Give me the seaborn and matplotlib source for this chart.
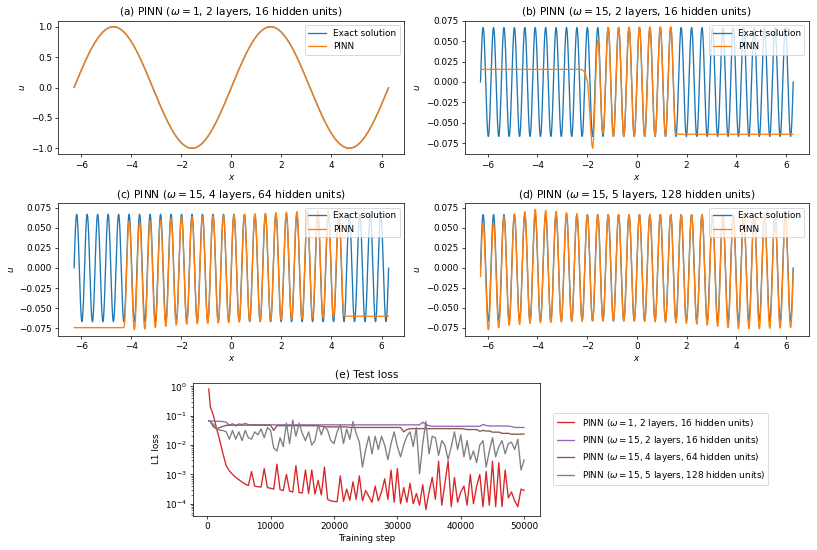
import numpy as np
import pandas as pd
import seaborn as sns
import matplotlib.pyplot as plt

# ---------------- dados dos quatro paineis de u(x) ----------------
omegas = [1, 15, 15, 15]
layers = [2, 2, 4, 5]
units = [16, 16, 64, 128]
tags = ['(a)', '(b)', '(c)', '(d)']
x_min, x_max = -2 * np.pi, 2 * np.pi

# (b) PINN: patamar a esquerda, segue a solucao no meio, patamar a direita
b_left_x = [-6.283, -2.25, -2.2, -2.12, -2.05, -1.98, -1.92, -1.86, -1.81]
b_left_u = [0.0155, 0.0155, 0.0150, 0.0130, 0.0080, 0.0, -0.022, -0.055, -0.076]
b_mid_x = [-1.78, 1.571]
b_off_x = [-1.78, -1.57, -1.36, -1.15, 1.36, 1.571]
b_off_u = [-0.0145, -0.0160, 0.004, 0.0, 0.001, 0.002]
b_right_u = -0.064

# (c) PINN: patamares nos extremos, deslocamento vertical no meio
c_mid_x = [-4.293, 4.503]
c_off_x = [-4.293, -3.8, -2.0, 0.0, 2.0, 3.8, 4.503]
c_off_u = [-0.0075, -0.0105, -0.0035, -0.001, 0.0025, 0.005, 0.0067]

# (d) PINN: quase igual a solucao, com pequenos desvios
d_off_x = [-6.283, -5.8, -5.3, -4.1, -2.0, 0.0, 2.5, 4.0, 5.0, 6.283]
d_off_u = [-0.011, -0.011, -0.004, 0.002, 0.0, 0.0, -0.002, -0.005, -0.005, -0.005]
d_gain = [1.0, 1.0, 1.03, 1.07, 1.0, 1.0, 1.03, 1.07, 1.07, 1.05]

# ---------------- dados da perda de teste (log10 do L1) ----------------
steps = [250] + list(range(500, 50001, 500))

red_log10 = [-0.08, -0.70, -1.00, -1.45, -1.85, -2.30, -2.70, -2.88, -3.00, -3.10,
             -3.18, -3.26, -3.33, -3.38, -2.90, -3.40, -3.42, -3.43, -2.80, -3.45,
             -3.47, -3.50, -2.65, -3.52, -3.55, -3.00, -3.57, -3.60, -2.70, -3.62,
             -3.63, -2.85, -3.65, -2.85, -3.67, -3.20, -3.70, -2.75, -3.85, -3.90,
             -3.92, -3.93, -3.05, -3.92, -3.50, -3.88, -3.25, -3.85, -3.05, -3.90,
             -3.55, -3.75, -3.95, -3.40, -3.90, -3.60, -3.15, -3.85, -2.85, -3.95,
             -2.80, -4.00, -3.45, -3.95, -3.30, -4.00, -3.65, -4.05, -3.35, -4.20,
             -3.60, -3.10, -3.85, -2.55, -4.05, -3.30, -2.55, -4.10, -3.10, -3.95,
             -3.60, -3.40, -4.05, -3.00, -4.00, -3.40, -3.00, -4.10, -2.90, -4.05,
             -2.55, -4.10, -2.60, -4.10, -2.85, -3.80, -3.60, -3.90, -4.10, -3.50,
             -3.55]

purple_log10 = ([-1.17, -1.18, -1.18, -1.19, -1.19, -1.20, -1.22, -1.33, -1.27, -1.35,
                 -1.28, -1.30, -1.26, -1.30] + [-1.31] * 54 +
                [-1.22, -1.30, -1.34] + [-1.36] * 16 +
                [-1.30, -1.33] + [-1.35] * 7 + [-1.37, -1.40, -1.40, -1.40, -1.40])

brown_log10 = ([-1.17, -1.20, -1.38, -1.45, -1.40, -1.36, -1.33, -1.32] + [-1.32] * 13 +
               [-1.50, -1.34] + [-1.34] * 13 + [-1.36] + [-1.38] * 8 + [-1.40] * 17 +
               [-1.55, -1.47] + [-1.44] * 17 + [-1.45, -1.47, -1.47, -1.47, -1.47,
                -1.53, -1.50, -1.52, -1.52, -1.56, -1.56, -1.56, -1.60, -1.60, -1.60,
                -1.63, -1.63, -1.63, -1.63, -1.62])

gray_log10 = [-1.18, -1.20, -1.30, -1.42, -1.50, -1.50, -1.55, -1.80, -1.50, -1.80,
              -1.55, -1.85, -1.50, -1.75, -1.80, -1.55, -1.65, -1.45, -1.75, -1.40,
              -1.50, -2.10, -2.20, -1.75, -2.05, -1.25, -1.95, -1.15, -1.70, -1.25,
              -1.60, -1.85, -1.55, -2.00, -1.85, -1.30, -1.65, -1.35, -1.50, -1.85,
              -1.95, -1.55, -1.30, -1.95, -1.45, -1.80, -1.20, -1.60, -1.90, -2.75,
              -2.15, -1.70, -2.30, -1.70, -2.15, -1.70, -2.00, -2.50, -1.95, -1.55,
              -2.05, -2.40, -2.00, -1.70, -1.55, -2.05, -1.40, -2.98, -1.95, -1.20,
              -2.30, -1.70, -1.75, -2.35, -1.85, -2.00, -2.50, -2.05, -1.55, -2.15,
              -1.65, -2.40, -1.85, -2.50, -2.20, -2.60, -2.00, -1.85, -2.75, -2.20,
              -1.75, -2.40, -2.05, -1.85, -2.30, -1.95, -1.90, -2.15, -1.80, -2.85,
              -2.50]

loss_labels = ['PINN ($\\omega = 1$, 2 layers, 16 hidden units)',
               'PINN ($\\omega = 15$, 2 layers, 16 hidden units)',
               'PINN ($\\omega = 15$, 4 layers, 64 hidden units)',
               'PINN ($\\omega = 15$, 5 layers, 128 hidden units)']
loss_colors = ['#d62728', '#9467bd', '#8c564b', '#7f7f7f']


def solucao_exata(x, w):
    return np.sin(w * x) / w


def curva_pinn(i, x):
    w = omegas[i]
    u = solucao_exata(x, w)
    if i == 0:
        return x, u
    if i == 1:
        dentro = (x >= b_mid_x[0]) & (x <= b_mid_x[1])
        xm = x[dentro]
        um = u[dentro] + np.interp(xm, b_off_x, b_off_u)
        xs = np.concatenate([b_left_x, xm, [b_mid_x[1] + 0.01, x_max]])
        us = np.concatenate([b_left_u, um, [b_right_u, b_right_u]])
        return xs, us
    if i == 2:
        uc = u + np.interp(x, c_off_x, c_off_u)
        esq = uc[np.argmin(np.abs(x - c_mid_x[0]))]
        dir_ = uc[np.argmin(np.abs(x - c_mid_x[1]))]
        uc = np.where(x < c_mid_x[0], esq, uc)
        uc = np.where(x > c_mid_x[1], dir_, uc)
        return x, uc
    ud = u * np.interp(x, d_off_x, d_gain) + np.interp(x, d_off_x, d_off_u)
    return x, ud


# figura 817x550: dpi reduzido para manter as proporcoes do original
sns.set_style('ticks')
plt.rcParams['font.family'] = ['DejaVu Sans']
plt.rcParams['mathtext.fontset'] = 'dejavusans'
for chave in ['text.color', 'axes.labelcolor', 'xtick.color', 'ytick.color', 'axes.edgecolor']:
    plt.rcParams[chave] = 'black'
dpi = 64
fig = plt.figure(figsize=(817 / dpi, 550 / dpi), dpi=dpi)

posicoes = [(0.0714, 0.7194, 0.4235, 0.2430),
            (0.5690, 0.7194, 0.4210, 0.2430),
            (0.0714, 0.3896, 0.4235, 0.2407),
            (0.5690, 0.3896, 0.4210, 0.2407)]

x = np.linspace(x_min, x_max, 3000)
for i in range(4):
    ax = fig.add_axes(posicoes[i])
    df_exata = pd.DataFrame({'x': x, 'u': solucao_exata(x, omegas[i])})
    xp, up = curva_pinn(i, x)
    df_pinn = pd.DataFrame({'x': xp, 'u': up})
    sns.lineplot(data=df_exata, x='x', y='u', ax=ax, color='#1f77b4',
                 label='Exact solution', sort=False, estimator=None, lw=1.5)
    sns.lineplot(data=df_pinn, x='x', y='u', ax=ax, color='#ff7f0e',
                 label='PINN', sort=False, estimator=None, lw=1.5)
    ax.legend(loc='upper right')
    ax.set_xlabel('$x$')
    ax.set_ylabel('$u$')
    ax.set_title(f'{tags[i]} PINN ($\\omega = {omegas[i]}$, {layers[i]} layers, {units[i]} hidden units)')

# grafico da perda
ax = fig.add_axes((0.2362, 0.0624, 0.4247, 0.2418))
series = [red_log10, purple_log10, brown_log10, gray_log10]
for serie, nome, cor in zip(series, loss_labels, loss_colors):
    df = pd.DataFrame({'step': steps, 'loss': 10 ** np.array(serie)})
    sns.lineplot(data=df, x='step', y='loss', ax=ax, color=cor, label=nome,
                 sort=False, estimator=None, lw=1.5)
ax.set_yscale('log')
ax.set_xlabel('Training step')
ax.set_ylabel('L1 loss')
ax.set_title('(e) Test loss')
ax.legend(loc='center left', bbox_to_anchor=(1.025, 0.5))

fig.savefig('out.png', dpi=dpi)
plt.close()
